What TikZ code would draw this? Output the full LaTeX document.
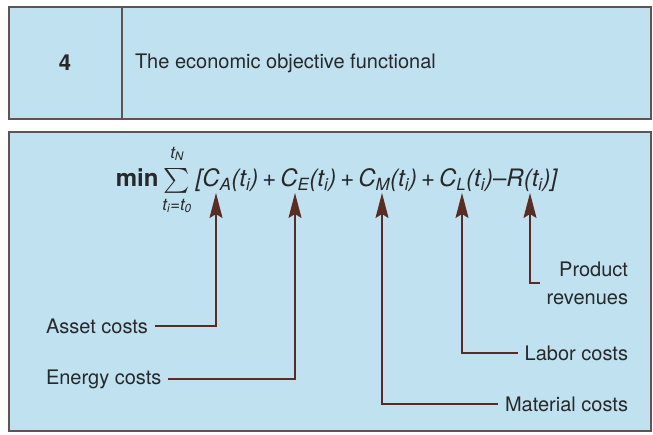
\documentclass[tikz,border=0pt]{standalone}
\usepackage{amsmath}
\usepackage{fontspec}
\setmainfont{TeX Gyre Heros}
\usetikzlibrary{positioning,arrows.meta}
\definecolor{panelblue}{RGB}{192,225,240}
\definecolor{framegray}{RGB}{98,82,82}
\definecolor{leadbrown}{RGB}{90,44,36}
\definecolor{inkgray}{RGB}{40,40,40}

\begin{document}
\begin{tikzpicture}[x=1pt, y=-1pt,
    panel/.style={draw=framegray, fill=panelblue, line width=1.6pt},
    lbl/.style={font=\fontsize{20}{28}\selectfont, text=inkgray, inner sep=0pt, outer sep=7pt},
    lead/.style={draw=leadbrown, line width=1.2pt, -{Stealth[length=25pt, width=13pt, inset=4pt]}}
]
\useasboundingbox (0,0) rectangle (653,434);
% header panel
\draw[panel] (9,7) rectangle (651,119);
\draw[framegray, line width=1.6pt] (122,7) -- (122,119);
\node[font=\fontsize{22}{26}\selectfont\bfseries, text=inkgray] (num) at (65,63) {4};
\node[lbl, anchor=west] (title) at (128,63) {The economic objective functional};
% formula panel
\draw[panel] (9,132) rectangle (651,431);
\node[font=\fontsize{24}{30}\selectfont, text=inkgray] (formula) at (337,180)
  {\textbf{min}\,$\sum\limits_{\text{\raisebox{-2pt}{\itshape t\textsubscript{i}=t\textsubscript{0}}}}^{\text{\raisebox{5pt}{\itshape t\textsubscript{N}}}}$\,%
   \textit{[C\textsubscript{A}(t\textsubscript{i})}\,+\,\textit{C\textsubscript{E}(t\textsubscript{i})}\,+\,%
   \textit{C\textsubscript{M}(t\textsubscript{i})}\,+\,\textit{C\textsubscript{L}(t\textsubscript{i})}--\textit{R(t\textsubscript{i})]}};
\coordinate (tipA) at (216,193);
\coordinate (tipE) at (295,193);
\coordinate (tipM) at (382,193);
\coordinate (tipL) at (462,193);
\coordinate (tipR) at (530,193);
% labels
\node[lbl, anchor=west] (asset) at (39,326) {Asset costs};
\node[lbl, anchor=west] (energy) at (39,379) {Energy costs};
\node[lbl, anchor=east] (labor) at (635,353) {Labor costs};
\node[lbl, anchor=east] (material) at (635,404) {Material costs};
\node[lbl, anchor=east, align=right] (revenue) at (635,283) {Product\\revenues};
% leads
\draw[lead] (asset.east) -| (tipA);
\draw[lead] (energy.east) -| (tipE);
\draw[lead] (material.west) -| (tipM);
\draw[lead] (labor.west) -| (tipL);
\draw[lead] (revenue.west) -| (tipR);
\end{tikzpicture}
\end{document}
